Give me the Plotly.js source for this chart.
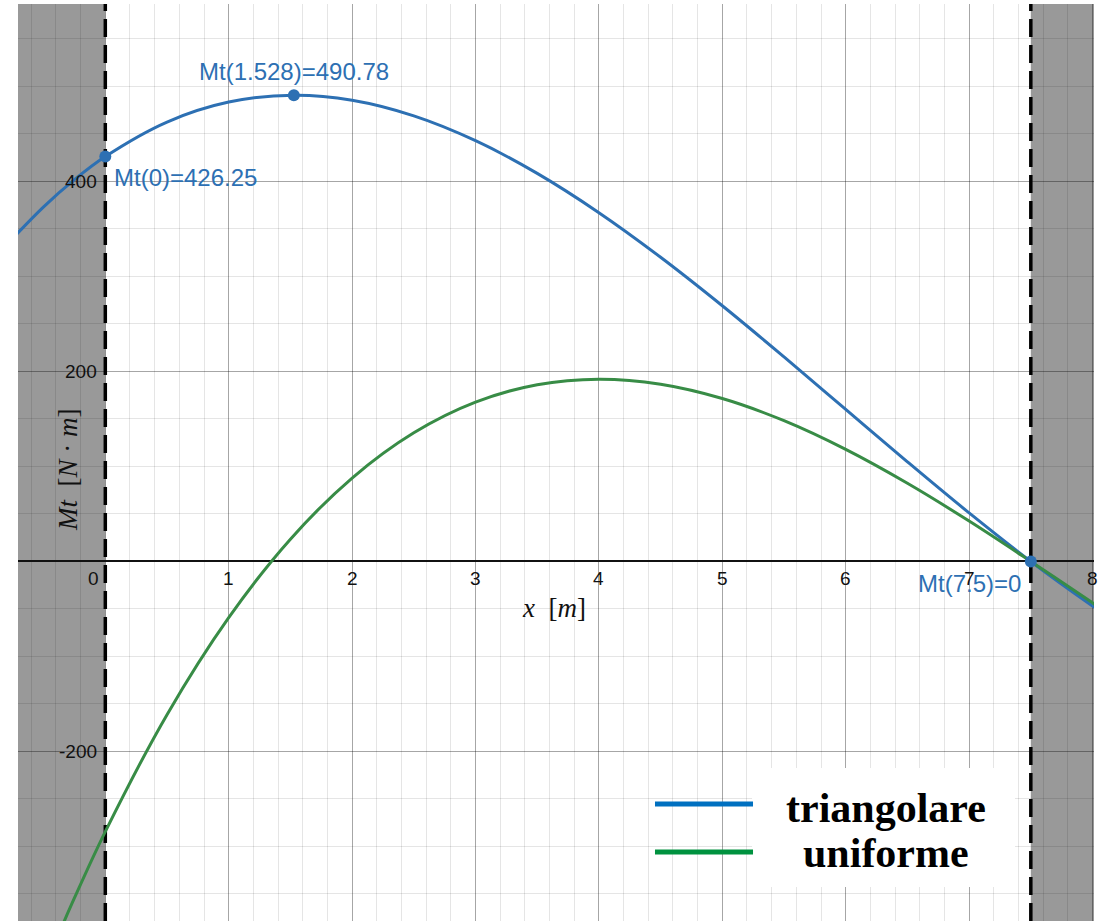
<!DOCTYPE html>
<html>
<head>
<meta charset="utf-8">
<script src="https://cdn.plot.ly/plotly-3.0.1.min.js"></script>
<style>html,body{margin:0;padding:0;background:#fff;}#chart{width:1104px;height:921px;}</style>
</head>
<body>
<div id="chart"></div>
<script>
// ---- data ----
const seriesNames = ["triangolare", "uniforme"];
const xTriang = [-0.75,-0.5,-0.25,0,0.5,1,1.528,2,2.5,3,3.5,4,4.5,5,5.5,6,6.5,7,7.5,8,8.05];
const yTriang = [340.16,373.31,401.95,426.25,462.55,483.59,490.78,485.44,469.03,442.91,408.48,367.11,320.19,269.13,215.29,160.07,104.86,51.04,0,-46.86,-51.27];
const xUnif = [-0.4,-0.25,0,0.5,1,1.5,2,2.5,3,3.5,4,4.5,5,5.5,6,6.5,7,7.5,8,8.05];
const yUnif = [-398.97,-354.28,-284.4,-161.27,-59.13,23.43,87.81,135.44,167.71,186.04,191.84,186.52,171.49,148.16,117.94,82.25,42.49,0,-43.59,-47.97];
const pointX = [0, 1.528, 7.5];
const pointY = [426.25, 490.78, 0];
const supports = [0, 7.5];
const xTickVals = [0,1,2,3,4,5,6,7,8];
const yTickVals = [-200, 200, 400];

const BLUE = '#2d70b3', GREEN = '#388c46';
const SANS = 'Liberation Sans, Arial, sans-serif';
const SERIF = 'Liberation Serif, Times New Roman, serif';

const traces = [
  {x: xTriang, y: yTriang, mode: 'lines', line: {color: BLUE, width: 3, shape: 'spline'}, name: seriesNames[0], hoverinfo: 'x+y'},
  {x: xUnif, y: yUnif, mode: 'lines', line: {color: GREEN, width: 3, shape: 'spline'}, name: seriesNames[1], hoverinfo: 'x+y'},
  {x: pointX, y: pointY, mode: 'markers', marker: {color: BLUE, size: 12}, cliponaxis: false, hoverinfo: 'x+y'}
];

const xRange = [-0.7075, 8.012];
const yRange = [-378.5, 586.8];

const shapes = [
  // shaded regions outside the supports
  {type: 'rect', xref: 'x', yref: 'paper', x0: xRange[0] - 1, x1: supports[0], y0: 0, y1: 1, fillcolor: '#999999', line: {width: 0}, layer: 'below'},
  {type: 'rect', xref: 'x', yref: 'paper', x0: supports[1], x1: xRange[1] + 1, y0: 0, y1: 1, fillcolor: '#999999', line: {width: 0}, layer: 'below'},
];
supports.forEach(s => shapes.push({type: 'line', xref: 'x', yref: 'paper', x0: s, x1: s, y0: 0, y1: 1, line: {color: '#000', width: 3.5, dash: '18px,8px'}, layer: 'between'}));
// legend box and sample lines
shapes.push({type: 'rect', xref: 'paper', yref: 'paper', x0: 0.6822, x1: 0.9266, y0: 0.0371, y1: 0.1668, fillcolor: '#ffffff', line: {width: 0}, layer: 'above'});
shapes.push({type: 'line', xref: 'paper', yref: 'paper', x0: 0.592, x1: 0.6831, y0: 0.1276, y1: 0.1276, line: {color: '#0070c0', width: 5}, layer: 'above'});
shapes.push({type: 'line', xref: 'paper', yref: 'paper', x0: 0.592, x1: 0.6831, y0: 0.0752, y1: 0.0752, line: {color: '#00923f', width: 5}, layer: 'above'});

const annotations = [];
// tick labels (Desmos style, on the axes)
xTickVals.forEach(t => annotations.push({
  x: t, y: 0, xref: 'x', yref: 'y', text: String(t), showarrow: false,
  xanchor: 'center', yanchor: 'middle', yshift: -17, xshift: t === 0 ? -12 : 0,
  font: {family: SANS, size: 19, color: '#111'}
}));
yTickVals.forEach(t => annotations.push({
  x: 0, y: t, xref: 'x', yref: 'y', text: String(t), showarrow: false,
  xanchor: 'right', yanchor: 'middle', xshift: -6,
  font: {family: SANS, size: 19, color: '#111'}
}));
// point labels
const lblCfg = [
  {xanchor: 'left', xshift: 7, yshift: -21},
  {xanchor: 'center', xshift: 0, yshift: 24},
  {xanchor: 'right', xshift: -8, yshift: -22}
];
pointX.forEach((px, i) => annotations.push(Object.assign({
  x: px, y: pointY[i], xref: 'x', yref: 'y', text: `Mt(${px})=${pointY[i]}`, showarrow: false,
  yanchor: 'middle', font: {family: SANS, size: 24, color: BLUE}
}, lblCfg[i])));
// axis titles
annotations.push({xref: 'paper', yref: 'paper', x: 0.4981, y: 0.3413, text: '<i>x</i>&nbsp; [<i>m</i>]', showarrow: false,
  xanchor: 'center', yanchor: 'middle', font: {family: SERIF, size: 27, color: '#111'}});
annotations.push({xref: 'paper', yref: 'paper', x: 0.0465, y: 0.4918, text: '<i>Mt</i>&nbsp; [<i>N</i> · <i>m</i>]', showarrow: false,
  textangle: -90, xanchor: 'center', yanchor: 'middle', font: {family: SERIF, size: 27, color: '#111'}});
// legend texts
annotations.push({xref: 'paper', yref: 'paper', x: 0.8067, y: 0.1232, text: '<b>' + seriesNames[0] + '</b>', showarrow: false,
  xanchor: 'center', yanchor: 'middle', font: {family: SERIF, size: 42, color: '#000'}});
annotations.push({xref: 'paper', yref: 'paper', x: 0.8067, y: 0.0742, text: '<b>' + seriesNames[1] + '</b>', showarrow: false,
  xanchor: 'center', yanchor: 'middle', font: {family: SERIF, size: 42, color: '#000'}});

const layout = {
  width: 1104, height: 921,
  margin: {l: 18, r: 10, t: 4, b: 0},
  paper_bgcolor: '#ffffff', plot_bgcolor: '#ffffff',
  showlegend: false,
  xaxis: {
    range: xRange, dtick: 1, tick0: 0, showticklabels: false, ticks: '',
    showgrid: true, gridcolor: 'rgba(0,0,0,0.35)', gridwidth: 1,
    minor: {dtick: 0.2, showgrid: true, gridcolor: 'rgba(0,0,0,0.1)', gridwidth: 1},
    zeroline: false, showline: false, fixedrange: true
  },
  yaxis: {
    range: yRange, dtick: 200, tick0: 0, showticklabels: false, ticks: '',
    showgrid: true, gridcolor: 'rgba(0,0,0,0.35)', gridwidth: 1,
    minor: {dtick: 50, showgrid: true, gridcolor: 'rgba(0,0,0,0.1)', gridwidth: 1},
    zeroline: true, zerolinecolor: '#111', zerolinewidth: 2, showline: false, fixedrange: true
  },
  shapes: shapes,
  annotations: annotations
};

Plotly.newPlot('chart', traces, layout, {displayModeBar: false, staticPlot: true});
</script>
</body>
</html>
